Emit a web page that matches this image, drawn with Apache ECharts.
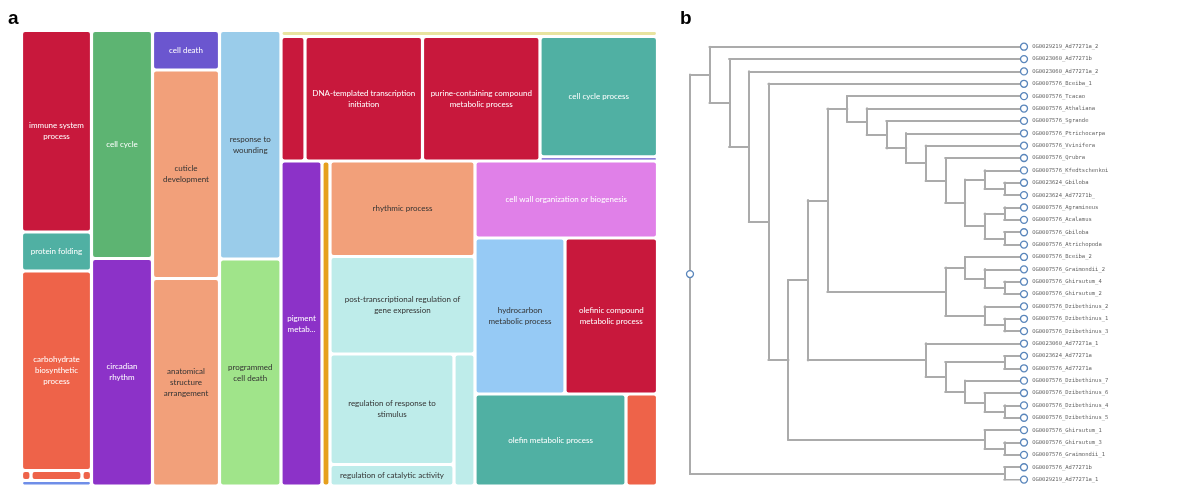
<!DOCTYPE html>
<html><head><meta charset="utf-8">
<script src="https://cdn.jsdelivr.net/npm/echarts@6/dist/echarts.min.js"></script>
<style>html,body{margin:0;padding:0;background:#fff}#c{width:1192px;height:486px}</style>
</head><body><div id="c"></div>
<script>
// ---------- Panel a : treemap of GO terms ----------
const termNames = [
  'immune system process','protein folding','carbohydrate biosynthetic process',
  'unlabelled term 1','unlabelled term 2','unlabelled term 3','unlabelled term 4',
  'cell cycle','circadian rhythm',
  'cell death','cuticle development','anatomical structure arrangement',
  'response to wounding','programmed cell death',
  'unlabelled term 5',
  'unlabelled term 6','DNA-templated transcription initiation','purine-containing compound metabolic process','cell cycle process','unlabelled term 7',
  'pigment metabolic process','unlabelled term 8',
  'rhythmic process','post-transcriptional regulation of gene expression',
  'regulation of response to stimulus','regulation of catalytic activity','unlabelled term 9',
  'cell wall organization or biogenesis','hydrocarbon metabolic process','olefinic compound metabolic process',
  'olefin metabolic process','unlabelled term 10'
];
const termGroups = [
  'G1','G1','G1/CB','G1/CB/bits','G1/CB/bits','G1/CB/bits','G1',
  'G2','G2',
  'G3','G3','G3',
  'G4','G4',
  'R',
  'R/T','R/T','R/T','R/T','R/T',
  'R/B','R/B',
  'R/B/M','R/B/M',
  'R/B/M/M2/M3','R/B/M/M2/M3','R/B/M/M2',
  'R/B/RC','R/B/RC/RC2','R/B/RC/RC2',
  'R/B/RC/RC3','R/B/RC/RC3'
];
const termValues = [
  14105, 2730, 13965, 95, 510, 95, 385,
  13908, 13878,
  2646, 13970, 13902,
  14053, 13960,
  2259,
  2988, 14629, 14629, 14131, 498,
  13325, 2600,
  13848, 14138,
  13702, 2666, 2772,
  14053, 14040, 14430,
  13892, 2898
];
const termColors = [
  '#C8183C','#50B0A3','#EE6349','#EE6349','#EE6349','#EE6349','#6F8EE8',
  '#5DB472','#8C32C8',
  '#6B56CF','#F2A07A','#F2A07A',
  '#9ACCEA','#A0E48A',
  '#E8E4A0',
  '#C8183C','#C8183C','#C8183C','#50B0A3','#6B56CF',
  '#8C32C8','#E6A01E',
  '#F2A07A','#BEECEA',
  '#BEECEA','#BEECEA','#BEECEA',
  '#E080E8','#96CAF5','#C8183C',
  '#50B0A3','#EE6349'
];
const termLabels = [
  'immune system\nprocess','protein folding','carbohydrate\nbiosynthetic\nprocess','','','','',
  'cell cycle','circadian\nrhythm',
  'cell death','cuticle\ndevelopment','anatomical\nstructure\narrangement',
  'response to\nwounding','programmed\ncell death',
  '',
  '','DNA-templated transcription\ninitiation','purine-containing compound\nmetabolic process','cell cycle process','',
  'pigment\nmetab...','',
  'rhythmic process','post-transcriptional regulation of\ngene expression',
  'regulation of response to\nstimulus','regulation of catalytic activity','',
  'cell wall organization or biogenesis','hydrocarbon\nmetabolic process','olefinic compound\nmetabolic process',
  'olefin metabolic process',''
];
const darkLabel = ['cuticle development','anatomical structure arrangement','response to wounding',
  'programmed cell death','rhythmic process','post-transcriptional regulation of gene expression',
  'regulation of response to stimulus','regulation of catalytic activity','hydrocarbon metabolic process'];

function buildTreemap() {
  const root = { children: [] };
  termNames.forEach((name, i) => {
    let node = root;
    termGroups[i].split('/').forEach(g => {
      let c = node.children.find(ch => ch.name === g && ch.children);
      if (!c) { c = { name: g, children: [], total: 0, itemStyle: { borderWidth: 0, gapWidth: 0 } }; node.children.push(c); }
      c.total += termValues[i];
      node = c;
    });
    const lbl = termLabels[i];
    node.children.push({
      name: name,
      value: termValues[i],
      itemStyle: { color: termColors[i], borderWidth: 1.6, borderColor: '#fff', borderRadius: 2 },
      label: {
        show: lbl !== '',
        formatter: lbl,
        color: darkLabel.includes(name) ? '#333' : '#fff'
      }
    });
  });
  return root.children;
}

// ---------- Panel b : cladogram ----------
const treeStructure = [
  ['OG0029219_Ad77271a_2',
    ['OG0023060_Ad77271b',
      ['OG0023060_Ad77271a_2',
        ['OG0007576_Bceiba_1',
          [
            [
              [
                ['OG0007576_Tcacao', ['OG0007576_Athaliana', ['OG0007576_Sgrande', ['OG0007576_Ptrichocarpa',
                  ['OG0007576_Vvinifera', ['OG0007576_Qrubra',
                    [['OG0007576_Kfedtschenkoi', ['OG0023624_Gbiloba', 'OG0023624_Ad77271b_']],
                     [['OG0007576_Agramineus', 'OG0007576_Acalamus'], ['OG0007576_Gbiloba', 'OG0007576_Atrichopoda']]]
                  ]]]]]],
                [
                  ['OG0007576_Bceiba_2', ['OG0007576_Graimondii_2', ['OG0007576_Ghirsutum_4', 'OG0007576_Ghirsutum_2']]],
                  ['OG0007576_Dzibethinus_2', ['OG0007576_Dzibethinus_1', 'OG0007576_Dzibethinus_3']]
                ]
              ],
              ['OG0023060_Ad77271a_1',
                [['OG0023624_Ad77271a', 'OG0007576_Ad77271a'],
                 ['OG0007576_Dzibethinus_7', ['OG0007576_Dzibethinus_6', ['OG0007576_Dzibethinus_4', 'OG0007576_Dzibethinus_5']]]]
              ]
            ],
            ['OG0007576_Ghirsutum_1', ['OG0007576_Ghirsutum_3', 'OG0007576_Graimondii_1']]
          ]
        ]
      ]
    ]
  ],
  ['OG0007576_Ad77271b', 'OG0029219_Ad77271a_1']
];

function nodeHeight(n) { return typeof n === 'string' ? 0 : 1 + Math.max(...n.map(nodeHeight)); }
const treeHeight = nodeHeight(treeStructure);
const leafNames = [];
const segments = [];
function layoutTree(n) {
  if (typeof n === 'string') { const y = leafNames.length; leafNames.push(n); return { x: treeHeight, y }; }
  const kids = n.map(layoutTree);
  const x = treeHeight - nodeHeight(n);
  const y = (kids[0].y + kids[kids.length - 1].y) / 2;
  segments.push([[x, kids[0].y], [x, kids[kids.length - 1].y]]);
  kids.forEach(k => segments.push([[x, k.y], [k.x, k.y]]));
  return { x, y };
}
const rootPos = layoutTree(treeStructure);

// treemap: top-level groups are sliced side by side in proportion to their totals,
// each slice is then laid out by ECharts' own treemap algorithm
const TM = { left: 21.5, top: 30.5, width: 636, height: 455.5 };
const topGroups = buildTreemap();
const grandTotal = topGroups.reduce((s, g) => s + g.total, 0);
let cursor = TM.left;
const treemapSeries = topGroups.map(g => {
  const w = TM.width * g.total / grandTotal;
  const s = {
    type: 'treemap',
    left: cursor, top: TM.top, width: w, height: TM.height,
    squareRatio: 0.15,
    sort: null,
    roam: false,
    nodeClick: false,
    breadcrumb: { show: false },
    visibleMin: 1,
    itemStyle: { borderWidth: 0, gapWidth: 0, borderColor: '#fff' },
    label: { show: true, position: 'inside', fontFamily: 'Lato', fontSize: 8, lineHeight: 11, padding: 0, overflow: 'none', align: 'center' },
    upperLabel: { show: false },
    data: g.children
  };
  cursor += w;
  return s;
});

const chart = echarts.init(document.getElementById('c'), null, { renderer: 'canvas' });
chart.setOption({
  animation: false,
  backgroundColor: '#fff',
  graphic: [
    { type: 'text', x: 8, y: 28, style: { text: 'a', font: 'bold 19px "Liberation Sans", Arial', fill: '#000', verticalAlign: 'bottom' } },
    { type: 'text', x: 680, y: 28, style: { text: 'b', font: 'bold 19px "Liberation Sans", Arial', fill: '#000', verticalAlign: 'bottom' } }
  ],
  grid: { left: 690, top: 46.7, width: 334, height: 432.9 },
  xAxis: { type: 'value', min: 0, max: treeHeight, show: false },
  yAxis: { type: 'value', min: 0, max: leafNames.length - 1, inverse: true, show: false },
  series: treemapSeries.concat([
    {
      type: 'lines',
      coordinateSystem: 'cartesian2d',
      silent: true,
      lineStyle: { color: '#ababab', width: 2, opacity: 1, cap: 'square' },
      data: segments.map(c => ({ coords: c }))
    },
    {
      type: 'scatter',
      silent: true,
      symbol: 'circle',
      symbolSize: 7,
      itemStyle: { color: '#fff', borderColor: '#5a86bb', borderWidth: 1.3, opacity: 1 },
      label: { show: true, position: 'right', distance: 4, fontFamily: 'DejaVu Sans Mono', fontSize: 5.5, color: '#666',
        formatter: p => p.data[2] },
      data: leafNames.map((n, i) => [treeHeight, i, n])
        .concat([{ value: [rootPos.x, rootPos.y, ''], label: { show: false } }]),
      z: 5
    }
  ])
});
</script>
</body></html>
